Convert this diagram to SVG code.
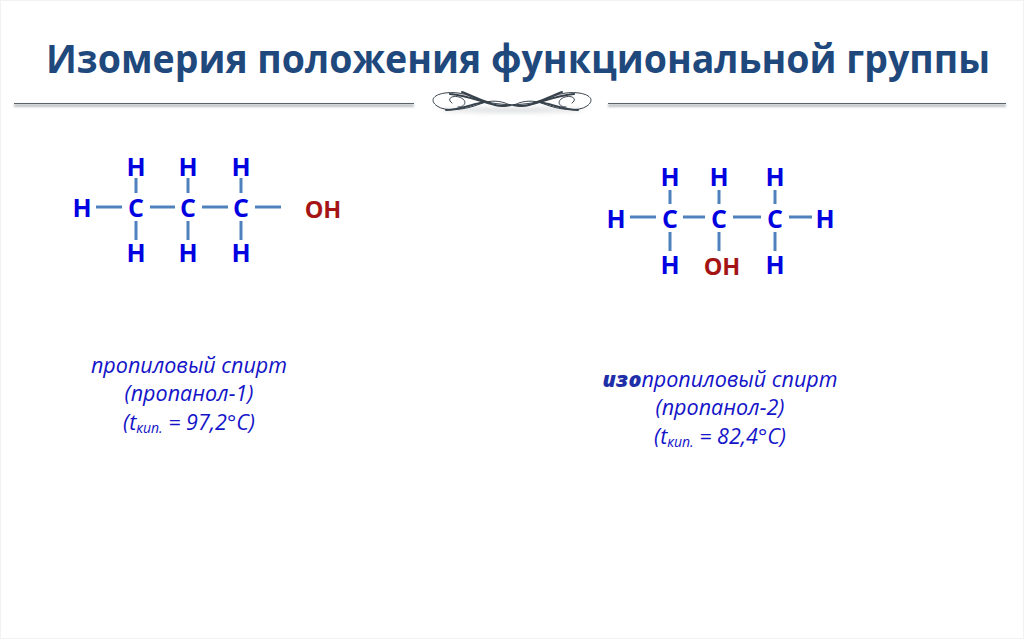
<svg xmlns="http://www.w3.org/2000/svg" width="1024" height="639" viewBox="0 0 1024 639">
<defs>
<filter id="soft" filterUnits="userSpaceOnUse" x="0" y="90" width="1024" height="30"><feGaussianBlur stdDeviation="1.2"/></filter>
<filter id="soft2" filterUnits="userSpaceOnUse" x="420" y="80" width="190" height="45"><feGaussianBlur stdDeviation=".45"/></filter>
<filter id="soft3" filterUnits="userSpaceOnUse" x="420" y="80" width="190" height="45"><feGaussianBlur stdDeviation="2"/></filter>
<g id="wing">
<path class="orn" stroke-width="1" d="M510 105C500 100 490 100 480 104C465 110 445 112 437 106C430 101 432 95 445 93C460 91 470 96 480 100C492 104 503 104 510 105"/>
<path class="orn" stroke-width="1" d="M452 103C446 99 452 95 459 97C468 100 466 107 458 107"/>
<path class="orn" stroke-width="2.200" d="M450 94C465 95 480 101 495 105C503 107 508 105 511 105"/>
<path class="orn" stroke-width="2" d="M462 92C472 96 480 100 490 103"/>
<path class="orn" stroke-width="2" d="M446 110C458 110 470 105 484 102"/>
</g>
</defs>
<style>
text{font-family:"Open Sans","Noto Sans","Liberation Sans",sans-serif}
.title{font-size:38px;font-weight:700;fill:#1f497d}
.a{font-size:25px;font-weight:700;fill:#0000e0;text-anchor:middle}
.oh{font-size:23.500px;font-weight:700;fill:#a51414;text-anchor:middle}
.bond{stroke:#4f81bd;stroke-width:3;fill:none}
.cap{font-size:21.500px;font-style:italic;fill:#1414c8;text-anchor:middle}
.sub{font-size:14px}
.orn{fill:none;stroke:#39424c;stroke-linecap:round}
</style>
<rect width="1024" height="639" fill="#fff"/>
<rect x=".5" y=".5" width="1023" height="638" fill="none" stroke="#f2f2f2"/>
<g id="title"><text class="title" transform="translate(46 73) scale(1 1.05)" x="0" y="0" textLength="944" lengthAdjust="spacingAndGlyphs">Изомерия положения функциональной группы</text></g>
<g id="divider">
<path d="M14 105.500H414M608 105.500H1006" stroke="#8f959b" stroke-width="3" opacity=".6" filter="url(#soft)" fill="none"/>
<path d="M14 103.500H414M608 103.500H1006" stroke="#5a626b" stroke-width="1.200" fill="none"/>
<ellipse cx="512" cy="110" rx="72" ry="3" fill="#9aa0a6" opacity=".3" filter="url(#soft3)"/>
<g filter="url(#soft2)">
<use href="#wing"/>
<use href="#wing" transform="matrix(-1 0 0 1 1024 0)"/>
</g>
</g>
<g id="connectors">
<path class="bond" d="M96 207H122M150 207H175M202 207H228M255 207H281M136 178V193M136 221V240M188 178V193M188 221V240M241 178V193M241 221V240"/>
<path class="bond" d="M630 217H656M683 217H705M733 217H761M789 217H812M670 190V204M670 232V251M719 190V204M719 232V251M775 190V204M775 232V251"/>
</g>
<g id="propanol1">
<text class="a" x="136" y="175.500">H</text><text class="a" x="188" y="175.500">H</text><text class="a" x="241" y="175.500">H</text>
<text class="a" x="82" y="217">H</text><text class="a" x="136" y="217">C</text><text class="a" x="188" y="217">C</text><text class="a" x="241" y="217">C</text>
<text class="oh" x="323" y="218">OH</text>
<text class="a" x="136" y="262">H</text><text class="a" x="188" y="262">H</text><text class="a" x="241" y="262">H</text>
</g>
<g id="propanol2">
<text class="a" x="670" y="186">H</text><text class="a" x="719" y="186">H</text><text class="a" x="775" y="186">H</text>
<text class="a" x="616" y="228">H</text><text class="a" x="670" y="228">C</text><text class="a" x="719" y="228">C</text><text class="a" x="775" y="228">C</text><text class="a" x="825" y="228">H</text>
<text class="a" x="670" y="274">H</text><text class="oh" x="722" y="275">OH</text><text class="a" x="775" y="274">H</text>
</g>
<g id="caption1">
<text class="cap" x="189" y="373">пропиловый спирт</text>
<text class="cap" x="189" y="401">(пропанол-1)</text>
<text class="cap" x="189" y="430">(t<tspan class="sub" dy="3">кип.</tspan><tspan dy="-3"> = 97,2°C)</tspan></text>
</g>
<g id="caption2">
<text class="cap" x="720" y="387"><tspan font-weight="800" fill="#1f2fa8">изо</tspan>пропиловый спирт</text>
<text class="cap" x="720" y="415">(пропанол-2)</text>
<text class="cap" x="720" y="444">(t<tspan class="sub" dy="3">кип.</tspan><tspan dy="-3"> = 82,4°C)</tspan></text>
</g>
</svg>
